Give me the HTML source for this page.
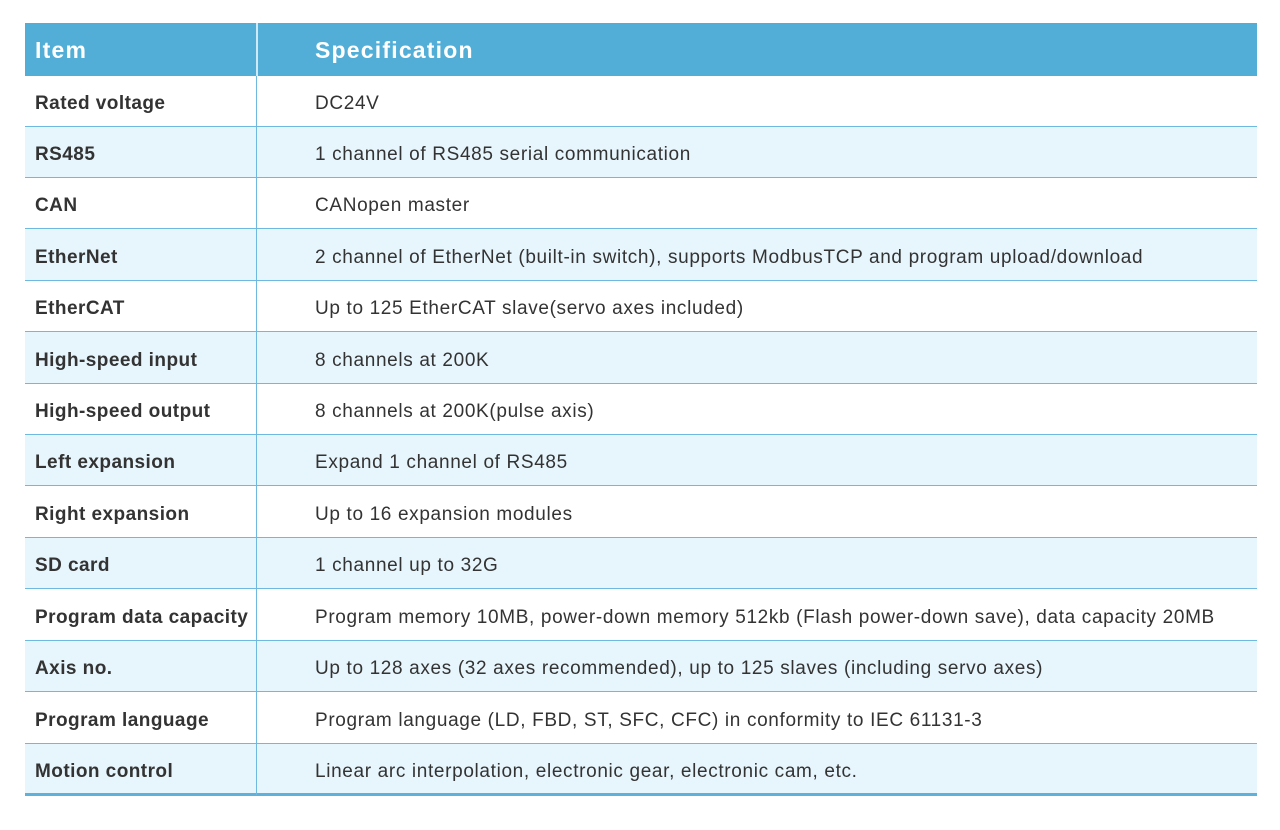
<!DOCTYPE html>
<html><head><meta charset="utf-8"><style>
body{margin:0;width:1280px;height:830px;background:#fff;position:relative;overflow:hidden;font-family:"Liberation Sans",sans-serif;}
.t{position:absolute;left:25px;width:1232px;}
.r{position:absolute;left:0;width:1232px;border-bottom:1px solid #6fb8e0;box-sizing:border-box;}
.r.b{background:#e7f5fc;}
.r.h{background:#52aed6;border:none;}
.c1,.c2{position:absolute;top:3px;height:100%;display:flex;align-items:center;font-size:19px;color:#333;letter-spacing:0.65px;white-space:nowrap;}
.c1{left:10px;font-weight:bold;letter-spacing:0.45px;}
.c2{left:290px;}
.h .c1,.h .c2{top:1px;color:#fff;font-weight:bold;font-size:23px;letter-spacing:1.2px;}
.div{position:absolute;left:231px;top:0;width:1px;height:772px;background:#6fb8e0;}
.hd{position:absolute;left:231px;top:0;width:2px;height:53px;background:#cfe9f5;}
</style></head><body>
<div class="t" style="top:23px;height:775px;">
<div class="r h" style="top:0;height:53px;"><div class="c1">Item</div><div class="c2">Specification</div></div>
<div class="r" style="top:53px;height:51px;"><div class="c1">Rated voltage</div><div class="c2">DC24V</div></div>
<div class="r b" style="top:104px;height:51px;"><div class="c1">RS485</div><div class="c2">1 channel of RS485 serial communication</div></div>
<div class="r" style="top:155px;height:51px;"><div class="c1">CAN</div><div class="c2">CANopen master</div></div>
<div class="r b" style="top:206px;height:52px;"><div class="c1">EtherNet</div><div class="c2">2 channel of EtherNet (built-in switch), supports ModbusTCP and program upload/download</div></div>
<div class="r" style="top:258px;height:51px;"><div class="c1">EtherCAT</div><div class="c2">Up to 125 EtherCAT slave(servo axes included)</div></div>
<div class="r b" style="top:309px;height:52px;"><div class="c1">High-speed input</div><div class="c2">8 channels at 200K</div></div>
<div class="r" style="top:361px;height:51px;"><div class="c1">High-speed output</div><div class="c2">8 channels at 200K(pulse axis)</div></div>
<div class="r b" style="top:412px;height:51px;"><div class="c1">Left expansion</div><div class="c2">Expand 1 channel of RS485</div></div>
<div class="r" style="top:463px;height:52px;"><div class="c1">Right expansion</div><div class="c2">Up to 16 expansion modules</div></div>
<div class="r b" style="top:515px;height:51px;"><div class="c1">SD card</div><div class="c2">1 channel up to 32G</div></div>
<div class="r" style="top:566px;height:52px;"><div class="c1">Program data capacity</div><div class="c2">Program memory 10MB, power-down memory 512kb (Flash power-down save), data capacity 20MB</div></div>
<div class="r b" style="top:618px;height:51px;"><div class="c1">Axis no.</div><div class="c2">Up to 128 axes (32 axes recommended), up to 125 slaves (including servo axes)</div></div>
<div class="r" style="top:669px;height:52px;"><div class="c1">Program language</div><div class="c2">Program language (LD, FBD, ST, SFC, CFC) in conformity to IEC 61131-3</div></div>
<div class="r b" style="top:721px;height:52px;border-bottom:3px solid #5fb0da;"><div class="c1">Motion control</div><div class="c2">Linear arc interpolation, electronic gear, electronic cam, etc.</div></div>
<div class="div"></div>
<div class="hd"></div>
</div>
</body></html>
